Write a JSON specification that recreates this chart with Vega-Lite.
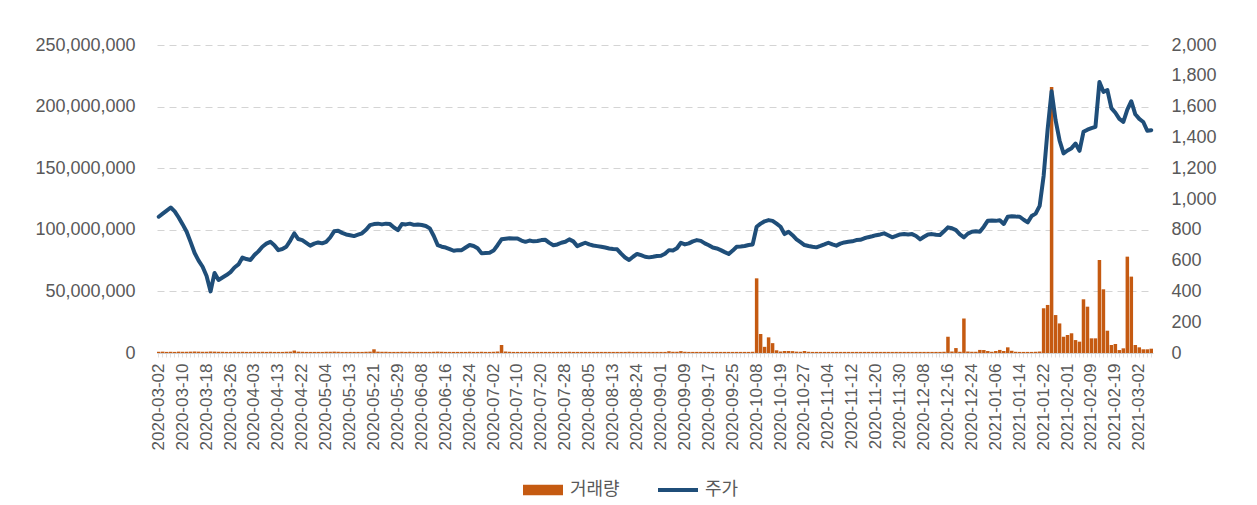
{
  "$schema": "https://vega.github.io/schema/vega-lite/v6.json",
  "width": 996,
  "height": 308,
  "autosize": {"type": "none"},
  "padding": {"left": 157, "top": 45, "right": 104, "bottom": 152},
  "background": "white",
  "config": {
    "view": {"stroke": null},
    "font": "Liberation Sans"
  },
  "data": {
    "values": [
      {"d":"2020-03-02","v":1000000,"p":885},{"d":"2020-03-03","v":1100000,"p":905},{"d":"2020-03-04","v":900000,"p":925},{"d":"2020-03-05","v":1000000,"p":945},{"d":"2020-03-06","v":900000,"p":920},
      {"d":"2020-03-09","v":1100000,"p":880},{"d":"2020-03-10","v":1000000,"p":835},{"d":"2020-03-11","v":1000000,"p":787},{"d":"2020-03-12","v":1100000,"p":720},{"d":"2020-03-13","v":1200000,"p":649},
      {"d":"2020-03-16","v":1100000,"p":600},{"d":"2020-03-17","v":1000000,"p":560},{"d":"2020-03-18","v":1000000,"p":500},{"d":"2020-03-19","v":1200000,"p":400},{"d":"2020-03-20","v":1100000,"p":520},
      {"d":"2020-03-23","v":1000000,"p":474},{"d":"2020-03-24","v":1000000,"p":490},{"d":"2020-03-25","v":900000,"p":506},{"d":"2020-03-26","v":900000,"p":525},{"d":"2020-03-27","v":1000000,"p":555},
      {"d":"2020-03-30","v":900000,"p":575},{"d":"2020-03-31","v":1000000,"p":620},{"d":"2020-04-01","v":900000,"p":610},{"d":"2020-04-02","v":900000,"p":604},{"d":"2020-04-03","v":1000000,"p":636},
      {"d":"2020-04-06","v":900000,"p":660},{"d":"2020-04-07","v":1000000,"p":690},{"d":"2020-04-08","v":900000,"p":710},{"d":"2020-04-09","v":1000000,"p":722},{"d":"2020-04-10","v":900000,"p":700},
      {"d":"2020-04-13","v":900000,"p":668},{"d":"2020-04-14","v":900000,"p":675},{"d":"2020-04-16","v":1000000,"p":690},{"d":"2020-04-17","v":1100000,"p":730},{"d":"2020-04-20","v":2000000,"p":777},
      {"d":"2020-04-21","v":1100000,"p":740},{"d":"2020-04-22","v":1000000,"p":733},{"d":"2020-04-23","v":900000,"p":715},{"d":"2020-04-24","v":900000,"p":697},{"d":"2020-04-27","v":900000,"p":710},
      {"d":"2020-04-28","v":900000,"p":718},{"d":"2020-04-29","v":900000,"p":712},{"d":"2020-05-04","v":1000000,"p":722},{"d":"2020-05-06","v":1000000,"p":750},{"d":"2020-05-07","v":1100000,"p":790},
      {"d":"2020-05-08","v":1000000,"p":794},{"d":"2020-05-11","v":900000,"p":780},{"d":"2020-05-12","v":900000,"p":770},{"d":"2020-05-13","v":900000,"p":765},{"d":"2020-05-14","v":900000,"p":759},
      {"d":"2020-05-15","v":900000,"p":768},{"d":"2020-05-18","v":900000,"p":777},{"d":"2020-05-19","v":1000000,"p":800},{"d":"2020-05-20","v":1100000,"p":830},{"d":"2020-05-21","v":3000000,"p":837},
      {"d":"2020-05-22","v":1100000,"p":840},{"d":"2020-05-25","v":1000000,"p":835},{"d":"2020-05-26","v":1000000,"p":840},{"d":"2020-05-27","v":900000,"p":837},{"d":"2020-05-28","v":900000,"p":815},
      {"d":"2020-05-29","v":900000,"p":798},{"d":"2020-06-01","v":1000000,"p":837},{"d":"2020-06-02","v":900000,"p":835},{"d":"2020-06-03","v":1000000,"p":840},{"d":"2020-06-04","v":900000,"p":832},
      {"d":"2020-06-05","v":900000,"p":835},{"d":"2020-06-08","v":900000,"p":831},{"d":"2020-06-09","v":900000,"p":825},{"d":"2020-06-10","v":900000,"p":809},{"d":"2020-06-11","v":1000000,"p":760},
      {"d":"2020-06-12","v":1100000,"p":700},{"d":"2020-06-15","v":1000000,"p":690},{"d":"2020-06-16","v":900000,"p":685},{"d":"2020-06-17","v":900000,"p":675},{"d":"2020-06-18","v":900000,"p":664},
      {"d":"2020-06-19","v":900000,"p":668},{"d":"2020-06-22","v":900000,"p":668},{"d":"2020-06-23","v":900000,"p":685},{"d":"2020-06-24","v":1000000,"p":701},{"d":"2020-06-25","v":900000,"p":695},
      {"d":"2020-06-26","v":900000,"p":680},{"d":"2020-06-29","v":1000000,"p":647},{"d":"2020-06-30","v":900000,"p":650},{"d":"2020-07-01","v":900000,"p":651},{"d":"2020-07-02","v":1000000,"p":665},
      {"d":"2020-07-03","v":1200000,"p":700},{"d":"2020-07-06","v":6500000,"p":738},{"d":"2020-07-07","v":1200000,"p":742},{"d":"2020-07-08","v":1000000,"p":745},{"d":"2020-07-09","v":900000,"p":744},
      {"d":"2020-07-10","v":900000,"p":744},{"d":"2020-07-13","v":900000,"p":730},{"d":"2020-07-14","v":900000,"p":722},{"d":"2020-07-15","v":900000,"p":730},{"d":"2020-07-16","v":900000,"p":725},
      {"d":"2020-07-17","v":900000,"p":727},{"d":"2020-07-20","v":900000,"p":733},{"d":"2020-07-21","v":900000,"p":735},{"d":"2020-07-22","v":900000,"p":715},{"d":"2020-07-23","v":900000,"p":700},
      {"d":"2020-07-24","v":900000,"p":705},{"d":"2020-07-27","v":900000,"p":716},{"d":"2020-07-28","v":900000,"p":722},{"d":"2020-07-29","v":1000000,"p":738},{"d":"2020-07-30","v":900000,"p":725},
      {"d":"2020-07-31","v":900000,"p":694},{"d":"2020-08-03","v":900000,"p":705},{"d":"2020-08-04","v":900000,"p":716},{"d":"2020-08-05","v":900000,"p":705},{"d":"2020-08-06","v":900000,"p":698},
      {"d":"2020-08-07","v":900000,"p":694},{"d":"2020-08-10","v":900000,"p":690},{"d":"2020-08-11","v":900000,"p":685},{"d":"2020-08-12","v":900000,"p":679},{"d":"2020-08-13","v":900000,"p":675},
      {"d":"2020-08-14","v":900000,"p":673},{"d":"2020-08-18","v":900000,"p":645},{"d":"2020-08-19","v":900000,"p":620},{"d":"2020-08-20","v":1000000,"p":604},{"d":"2020-08-21","v":900000,"p":625},
      {"d":"2020-08-24","v":900000,"p":643},{"d":"2020-08-25","v":900000,"p":635},{"d":"2020-08-26","v":900000,"p":625},{"d":"2020-08-27","v":900000,"p":621},{"d":"2020-08-28","v":900000,"p":625},
      {"d":"2020-08-31","v":900000,"p":630},{"d":"2020-09-01","v":900000,"p":632},{"d":"2020-09-02","v":900000,"p":645},{"d":"2020-09-03","v":1500000,"p":668},{"d":"2020-09-04","v":1000000,"p":665},
      {"d":"2020-09-07","v":1000000,"p":680},{"d":"2020-09-08","v":1500000,"p":716},{"d":"2020-09-09","v":1000000,"p":705},{"d":"2020-09-10","v":900000,"p":712},{"d":"2020-09-11","v":900000,"p":725},
      {"d":"2020-09-14","v":900000,"p":733},{"d":"2020-09-15","v":900000,"p":728},{"d":"2020-09-16","v":900000,"p":712},{"d":"2020-09-17","v":900000,"p":700},{"d":"2020-09-18","v":900000,"p":685},
      {"d":"2020-09-21","v":900000,"p":679},{"d":"2020-09-22","v":900000,"p":668},{"d":"2020-09-23","v":900000,"p":655},{"d":"2020-09-24","v":900000,"p":643},{"d":"2020-09-25","v":900000,"p":665},
      {"d":"2020-09-28","v":900000,"p":690},{"d":"2020-09-29","v":900000,"p":692},{"d":"2020-10-05","v":900000,"p":695},{"d":"2020-10-06","v":900000,"p":701},{"d":"2020-10-07","v":1000000,"p":705},
      {"d":"2020-10-08","v":60600000,"p":820},{"d":"2020-10-12","v":15400000,"p":840},{"d":"2020-10-13","v":5000000,"p":855},{"d":"2020-10-14","v":12700000,"p":863},{"d":"2020-10-15","v":8000000,"p":858},
      {"d":"2020-10-16","v":2200000,"p":840},{"d":"2020-10-19","v":1200000,"p":820},{"d":"2020-10-20","v":1600000,"p":772},{"d":"2020-10-21","v":1600000,"p":787},{"d":"2020-10-22","v":1500000,"p":765},
      {"d":"2020-10-23","v":1100000,"p":738},{"d":"2020-10-26","v":1000000,"p":720},{"d":"2020-10-27","v":1600000,"p":701},{"d":"2020-10-28","v":1000000,"p":695},{"d":"2020-10-29","v":900000,"p":690},
      {"d":"2020-10-30","v":900000,"p":686},{"d":"2020-11-02","v":900000,"p":695},{"d":"2020-11-03","v":900000,"p":705},{"d":"2020-11-04","v":900000,"p":716},{"d":"2020-11-05","v":900000,"p":705},
      {"d":"2020-11-06","v":900000,"p":697},{"d":"2020-11-09","v":900000,"p":710},{"d":"2020-11-10","v":900000,"p":718},{"d":"2020-11-11","v":900000,"p":722},{"d":"2020-11-12","v":900000,"p":725},
      {"d":"2020-11-13","v":900000,"p":733},{"d":"2020-11-16","v":900000,"p":735},{"d":"2020-11-17","v":900000,"p":745},{"d":"2020-11-18","v":900000,"p":752},{"d":"2020-11-19","v":900000,"p":758},
      {"d":"2020-11-20","v":900000,"p":765},{"d":"2020-11-23","v":900000,"p":770},{"d":"2020-11-24","v":900000,"p":777},{"d":"2020-11-25","v":900000,"p":765},{"d":"2020-11-26","v":900000,"p":751},
      {"d":"2020-11-27","v":900000,"p":760},{"d":"2020-11-30","v":900000,"p":770},{"d":"2020-12-01","v":900000,"p":772},{"d":"2020-12-02","v":900000,"p":770},{"d":"2020-12-03","v":900000,"p":772},
      {"d":"2020-12-04","v":900000,"p":760},{"d":"2020-12-07","v":900000,"p":738},{"d":"2020-12-08","v":900000,"p":755},{"d":"2020-12-09","v":900000,"p":770},{"d":"2020-12-10","v":900000,"p":772},
      {"d":"2020-12-11","v":900000,"p":768},{"d":"2020-12-14","v":900000,"p":766},{"d":"2020-12-15","v":1000000,"p":790},{"d":"2020-12-16","v":13200000,"p":816},{"d":"2020-12-17","v":1200000,"p":810},
      {"d":"2020-12-18","v":4000000,"p":798},{"d":"2020-12-21","v":1000000,"p":770},{"d":"2020-12-22","v":28000000,"p":751},{"d":"2020-12-23","v":1200000,"p":775},{"d":"2020-12-24","v":1000000,"p":787},
      {"d":"2020-12-28","v":1000000,"p":790},{"d":"2020-12-29","v":2500000,"p":787},{"d":"2020-12-30","v":2400000,"p":820},{"d":"2021-01-04","v":1600000,"p":859},{"d":"2021-01-05","v":1000000,"p":860},
      {"d":"2021-01-06","v":1600000,"p":858},{"d":"2021-01-07","v":2500000,"p":862},{"d":"2021-01-08","v":1600000,"p":838},{"d":"2021-01-11","v":4600000,"p":885},{"d":"2021-01-12","v":1800000,"p":888},
      {"d":"2021-01-13","v":1000000,"p":886},{"d":"2021-01-14","v":900000,"p":885},{"d":"2021-01-15","v":900000,"p":865},{"d":"2021-01-18","v":900000,"p":848},{"d":"2021-01-19","v":900000,"p":890},
      {"d":"2021-01-20","v":1000000,"p":905},{"d":"2021-01-21","v":1200000,"p":955},{"d":"2021-01-22","v":36300000,"p":1150},{"d":"2021-01-25","v":39000000,"p":1450},{"d":"2021-01-26","v":216000000,"p":1700},
      {"d":"2021-01-27","v":30800000,"p":1512},{"d":"2021-01-28","v":24000000,"p":1380},{"d":"2021-01-29","v":13200000,"p":1296},{"d":"2021-02-01","v":14600000,"p":1315},{"d":"2021-02-02","v":16000000,"p":1330},
      {"d":"2021-02-03","v":10500000,"p":1360},{"d":"2021-02-04","v":9200000,"p":1313},{"d":"2021-02-05","v":43600000,"p":1436},{"d":"2021-02-08","v":37600000,"p":1450},{"d":"2021-02-09","v":11900000,"p":1460},
      {"d":"2021-02-10","v":11900000,"p":1469},{"d":"2021-02-15","v":75500000,"p":1760},{"d":"2021-02-16","v":51700000,"p":1696},{"d":"2021-02-17","v":18100000,"p":1707},{"d":"2021-02-18","v":6500000,"p":1590},
      {"d":"2021-02-19","v":7300000,"p":1560},{"d":"2021-02-22","v":2400000,"p":1520},{"d":"2021-02-23","v":3800000,"p":1501},{"d":"2021-02-24","v":78200000,"p":1580},{"d":"2021-02-25","v":62000000,"p":1635},
      {"d":"2021-02-26","v":6500000,"p":1550},{"d":"2021-03-02","v":4600000,"p":1520},{"d":"2021-03-03","v":3000000,"p":1500},{"d":"2021-03-04","v":3000000,"p":1443},{"d":"2021-03-05","v":3500000,"p":1447}
    ]
  },
  "encoding": {
    "x": {
      "field": "d",
      "type": "ordinal",
      "sort": null,
      "scale": {"paddingInner": 0.12, "paddingOuter": 0},
      "axis": {
        "title": null,
        "labelAngle": -90,
        "labelFont": "Liberation Sans",
        "labelFontSize": 17,
        "labelColor": "#595959",
        "labelPadding": 6,
        "labelOverlap": false,
        "labelExpr": "indexof(['2020-03-02','2020-03-10','2020-03-18','2020-03-26','2020-04-03','2020-04-13','2020-04-22','2020-05-04','2020-05-13','2020-05-21','2020-05-29','2020-06-08','2020-06-16','2020-06-24','2020-07-02','2020-07-10','2020-07-20','2020-07-28','2020-08-05','2020-08-13','2020-08-24','2020-09-01','2020-09-09','2020-09-17','2020-09-25','2020-10-08','2020-10-19','2020-10-27','2020-11-04','2020-11-12','2020-11-20','2020-11-30','2020-12-08','2020-12-16','2020-12-24','2021-01-06','2021-01-14','2021-01-22','2021-02-01','2021-02-09','2021-02-19','2021-03-02'], datum.value) >= 0 ? datum.value : ''",
        "domainColor": "#d0d0d0",
        "tickColor": "#e0e0e0",
        "tickSize": 4,
        "grid": false
      }
    }
  },
  "layer": [
    {
      "mark": {"type": "bar", "color": "#C55A11"},
      "encoding": {
        "y": {
          "field": "v",
          "type": "quantitative",
          "scale": {"domain": [0, 250000000], "nice": false},
          "axis": {
            "title": null,
            "values": [0, 50000000, 100000000, 150000000, 200000000, 250000000],
            "format": ",.0f",
            "labelFont": "Liberation Sans",
            "labelFontSize": 18,
            "labelColor": "#595959",
            "labelPadding": 22,
            "domain": false,
            "ticks": false,
            "grid": true,
            "gridColor": "#d4d4d4",
            "gridDash": [7, 5],
            "gridWidth": 1
          }
        },
        "color": {
          "datum": "거래량",
          "type": "nominal",
          "scale": {"domain": ["거래량", "주가"], "range": ["#C55A11", "#1F4E79"]},
          "legend": {
            "title": null,
            "orient": "none",
            "legendX": 366,
            "legendY": 425,
            "direction": "horizontal",
            "columns": 2,
            "columnPadding": 38,
            "padding": 0,
            "symbolSize": 1600,
            "labelFont": "Noto Sans CJK KR",
            "labelFontSize": 18,
            "labelColor": "#595959",
            "labelOffset": 7,
            "encode": {
              "symbols": {
                "update": {
                  "shape": {"signal": "datum.value == '주가' ? 'M-1,-0.1H1V0.1H-1Z' : 'M-1,-0.26H1V0.26H-1Z'"},
                  "fill": {"scale": "color", "field": "value"},
                  "fillOpacity": {"value": 1},
                  "strokeWidth": {"value": 0},
                  "opacity": {"value": 1}
                }
              }
            }
          }
        }
      }
    },
    {
      "mark": {"type": "line", "strokeWidth": 4, "strokeJoin": "round", "strokeCap": "round"},
      "encoding": {
        "y": {
          "field": "p",
          "type": "quantitative",
          "scale": {"domain": [0, 2000], "nice": false},
          "axis": {
            "title": null,
            "orient": "right",
            "values": [0, 200, 400, 600, 800, 1000, 1200, 1400, 1600, 1800, 2000],
            "format": ",.0f",
            "labelFont": "Liberation Sans",
            "labelFontSize": 18,
            "labelColor": "#595959",
            "labelPadding": 18,
            "domain": false,
            "ticks": false,
            "grid": false
          }
        },
        "color": {
          "datum": "주가",
          "type": "nominal",
          "legend": {
            "title": null,
            "orient": "none",
            "legendX": 366,
            "legendY": 425,
            "direction": "horizontal",
            "columns": 2,
            "columnPadding": 38,
            "padding": 0,
            "symbolSize": 1600,
            "labelFont": "Noto Sans CJK KR",
            "labelFontSize": 18,
            "labelColor": "#595959",
            "labelOffset": 7,
            "encode": {
              "symbols": {
                "update": {
                  "shape": {"signal": "datum.value == '주가' ? 'M-1,-0.1H1V0.1H-1Z' : 'M-1,-0.26H1V0.26H-1Z'"},
                  "fill": {"scale": "color", "field": "value"},
                  "fillOpacity": {"value": 1},
                  "strokeWidth": {"value": 0},
                  "opacity": {"value": 1}
                }
              }
            }
          }
        }
      }
    }
  ],
  "resolve": {"scale": {"y": "independent"}}
}
